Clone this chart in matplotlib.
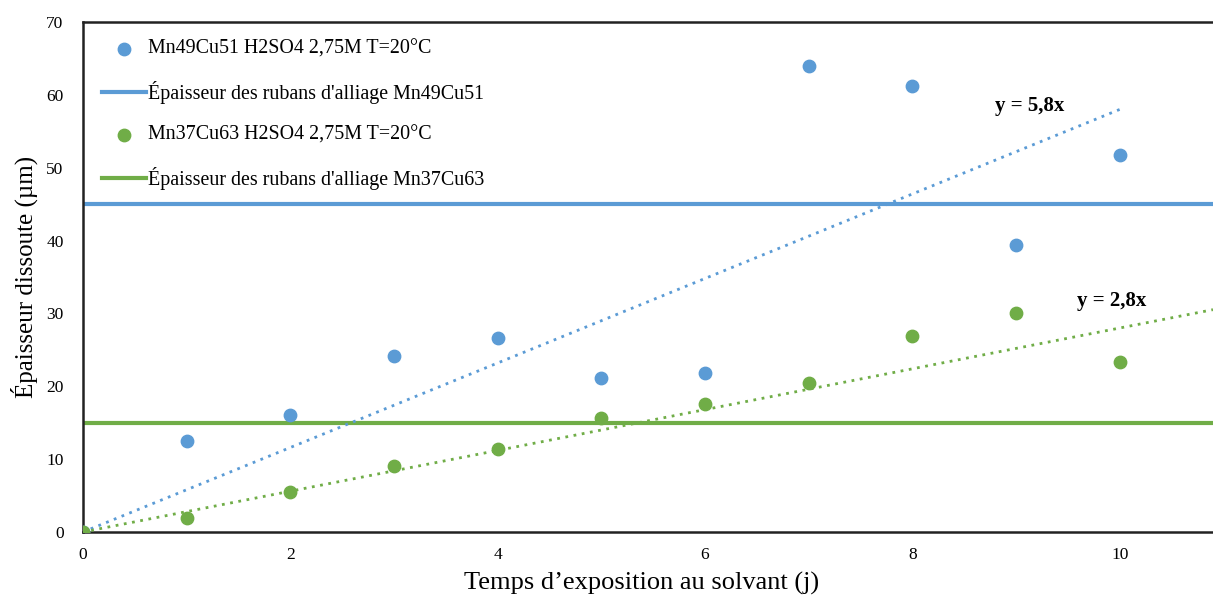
import numpy as np
from matplotlib import pyplot as plt

plt.rcParams['font.family'] = ['Liberation Serif', 'DejaVu Serif']

# jours d'exposition
jours = [0, 1, 2, 3, 4, 5, 6, 7, 8, 9, 10]
# epaisseur dissoute (um) pour chaque alliage
ep_mn49 = [0, 12.5, 16.1, 24.1, 26.6, 21.1, 21.8, 63.9, 61.2, 39.4, 51.8]
ep_mn37 = [0, 1.9, 5.5, 9.1, 11.4, 15.7, 17.6, 20.4, 26.9, 30.0, 23.4]
# epaisseur des rubans
ruban_mn49 = 45.0
ruban_mn37 = 15.0
# pentes des droites de tendance
pente_mn49 = 5.8
pente_mn37 = 2.8

blue = '#5B9BD5'
green = '#70AD47'

fig = plt.figure(figsize=(12.13, 6), dpi=100)
ax = fig.add_axes([0.0684, 0.1133, 0.9316, 0.85])

xmax = 10.9

ax.scatter(jours, ep_mn49, s=80, color=blue, zorder=4, label='Mn49Cu51 H2SO4 2,75M T=20°C')
ax.axhline(ruban_mn49, color=blue, lw=3, zorder=2, label="Épaisseur des rubans d'alliage Mn49Cu51")
ax.scatter(jours, ep_mn37, s=80, color=green, zorder=4, label='Mn37Cu63 H2SO4 2,75M T=20°C')
ax.axhline(ruban_mn37, color=green, lw=3, zorder=2, label="Épaisseur des rubans d'alliage Mn37Cu63")

# droites de tendance
x1 = np.array([0, 10])
ax.plot(x1, pente_mn49 * x1, color=blue, lw=2, ls=(0, (1, 2)), zorder=3)
x2 = np.array([0, xmax])
ax.plot(x2, pente_mn37 * x2, color=green, lw=2, ls=(0, (1, 2)), zorder=3)

ax.text(9.13, 57.8, 'y = 5,8x', fontsize=15, fontweight='bold', ha='center', va='baseline')
ax.text(9.92, 31.0, 'y = 2,8x', fontsize=15, fontweight='bold', ha='center', va='baseline')

ax.set_xlim(0, xmax)
ax.set_ylim(0, 70)
ax.set_xticks([0, 2, 4, 6, 8, 10])
ax.set_yticks(range(0, 71, 10))
ax.tick_params(length=0, labelsize=12.5)
ax.tick_params(axis='y', pad=14)
ax.tick_params(axis='x', pad=11)
ax.spines['right'].set_visible(False)
for s in ['left', 'bottom', 'top']:
    ax.spines[s].set_linewidth(1.8)
    ax.spines[s].set_color('#222222')

ax.set_xlabel('Temps d’exposition au solvant (j)', fontsize=19, labelpad=6)
ax.xaxis.label.set_x(0.494)
ax.set_ylabel('Épaisseur dissoute (µm)', fontsize=18, labelpad=6)

ax.legend(loc='upper left', bbox_to_anchor=(0.001, 1.0), frameon=False, fontsize=14.4,
          labelspacing=1.1, handlelength=2.2, handletextpad=0.1, scatterpoints=1)

plt.savefig('out.png', dpi=100)
